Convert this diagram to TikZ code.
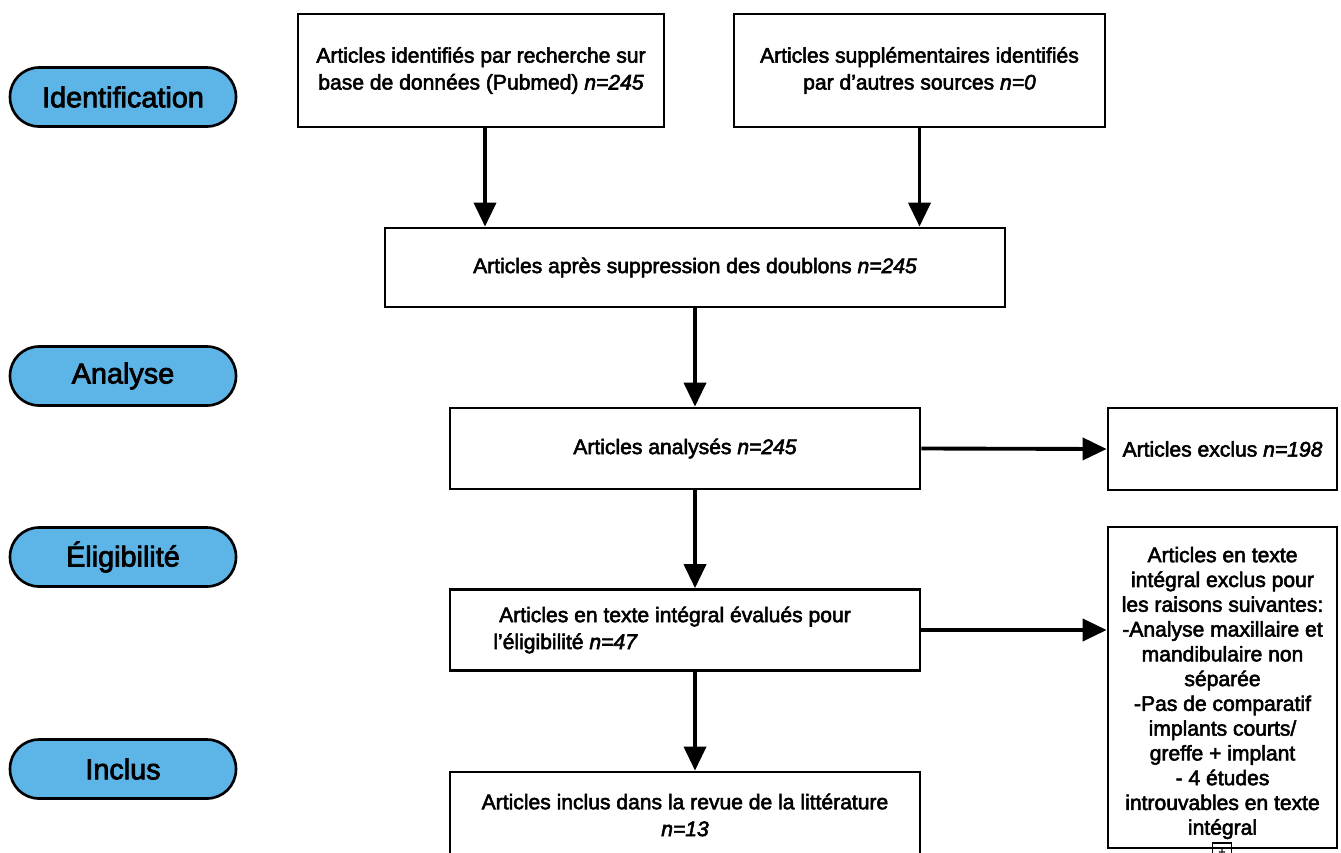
\documentclass[tikz,border=0pt]{standalone}
\usepackage{fontspec}
\setmainfont{Liberation Sans}[FakeBold=2.6]
\usepackage{tikz}
\usetikzlibrary{arrows.meta}
\definecolor{phaseblue}{RGB}{93,180,230}

\begin{document}
\begin{tikzpicture}[x=0.02cm, y=-0.02cm,
        box/.style={rectangle, draw=black, line width=1.6pt, inner sep=0pt, align=center, font=\fontsize{12}{15.3}\selectfont},
        phase/.style={rectangle, draw=black, line width=1.5pt, rounded corners=0.58cm, fill=phaseblue, minimum width=4.52cm, minimum height=1.18cm, font=\fontsize{16.4}{19}\selectfont},
        arrow/.style={-{Triangle[length=0.48cm,width=0.44cm]}, line width=2.2pt},
      ]
      \useasboundingbox (0,0) rectangle (1341,852);
      \clip (0,0) rectangle (1341,852);
      % phases
      \node [phase] (identification) at (123,97) {Identification};
      \node [phase] (analyse) at (123,376) {Analyse};
      \node [phase] (eligibilite) at (123,557) {Éligibilité};
      \node [phase] (inclus) at (123,769) {Inclus};
      % flow
      \node [box, minimum width=7.32cm, minimum height=2.26cm] (pubmed) at (481,70.5) {Articles identifiés par recherche sur\\base de données (Pubmed) \textit{n=245}};
      \node [box, minimum width=7.42cm, minimum height=2.26cm] (autres) at (919.5,70.5) {Articles supplémentaires identifiés\\par d’autres sources \textit{n=0}};
      \node [box, minimum width=12.4cm, minimum height=1.58cm] (doublons) at (695,267.5) {Articles après suppression des doublons \textit{n=245}};
      \node [box, minimum width=9.4cm, minimum height=1.62cm] (analyses) at (685,448.5) {Articles analysés \textit{n=245}};
      \node [box, minimum width=9.4cm, minimum height=1.62cm] (evalues) at (685,630) {};
      \node [anchor=west, align=left, inner sep=0pt, font=\fontsize{12}{15.3}\selectfont] (evaluestxt) at (493,630) {\ Articles en texte intégral évalués pour\\l’éligibilité \textit{n=47}};
      \node [box, minimum width=9.4cm, minimum height=1.72cm] (inclustxt) at (685,815) {Articles inclus dans la revue de la littérature\\\textit{n=13}};
      \node [box, minimum width=4.58cm, minimum height=1.64cm] (exclus) at (1222.5,449) {Articles exclus \textit{n=198}};
      \node [box, minimum width=4.58cm, minimum height=6.42cm] (raisons) at (1222.5,687.5) {};
      \node [align=center, inner sep=0pt, font=\fontsize{12}{14.1}\selectfont] (raisonstxt) at (1222.5,693) {Articles en texte\\intégral exclus pour\\les raisons suivantes:\\-Analyse maxillaire et\\mandibulaire non\\séparée\\-Pas de comparatif\\implants courts/\\greffe + implant\\- 4 études\\introuvables en texte\\intégral};
      \node [draw=black, line width=0.6pt, minimum size=0.38cm, inner sep=0pt, font=\scriptsize] (collapse) at (1222,852.5) {+};
      % arrows
      \draw [arrow] ([xshift=0.08cm]pubmed.south) -- ([xshift=0.08cm]pubmed.south |- doublons.north);
      \draw [arrow] (autres.south) -- (autres.south |- doublons.north);
      \draw [arrow] (doublons.south) -- (doublons.south |- analyses.north);
      \draw [arrow] (analyses.south -| doublons.south) -- (doublons.south |- evalues.north);
      \draw [arrow] (evalues.south -| doublons.south) -- (doublons.south |- inclustxt.north);
      \draw [arrow] (analyses.east) -- (exclus.west);
      \draw [arrow] (evalues.east) -- (evalues.east -| raisons.west);
    \end{tikzpicture}
\end{document}
